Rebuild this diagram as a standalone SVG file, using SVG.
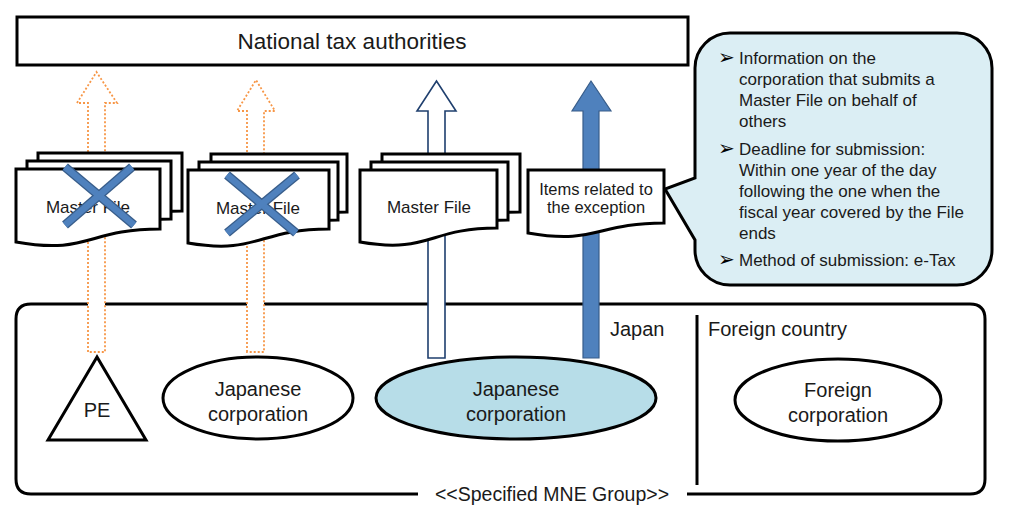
<svg xmlns="http://www.w3.org/2000/svg" width="1024" height="519" viewBox="0 0 1024 519">
<style>
text{font-family:"Liberation Sans",Arial,sans-serif;fill:#1a1a1a}
.box{fill:#fff;stroke:#000;stroke-width:3}
.doc{fill:#fff;stroke:#000;stroke-width:3;stroke-linejoin:miter}
.dot{fill:#fff;stroke:#f79646;stroke-width:1.8;stroke-dasharray:2 2}
.hollow{fill:#fff;stroke:#1f3f6e;stroke-width:1.6}
.solid{fill:#4f81bd;stroke:#385d8a;stroke-width:1.2}
.xo{stroke:#385d8a;stroke-width:9;stroke-linecap:butt}
.xi{stroke:#4f81bd;stroke-width:6.5;stroke-linecap:butt}
.bul{font-family:"DejaVu Sans",sans-serif;font-size:20px;fill:#000}
.ct{font-size:17px}
</style>
<g id="group">
<path d="M418,494 H31 Q16,494 16,479 V319 Q16,304 31,304 H970 Q985,304 985,319 V479 Q985,494 970,494 H687" fill="none" stroke="#000" stroke-width="3"/>
<line x1="697" y1="315" x2="697" y2="485" stroke="#000" stroke-width="3"/>
<text x="552" y="501" font-size="19.5" text-anchor="middle">&lt;&lt;Specified MNE Group&gt;&gt;</text>
<text x="610" y="336" font-size="20">Japan</text>
<text x="708" y="336" font-size="20">Foreign country</text>
</g>
<g id="pe">
<polygon points="97,357 48,440 146,440" class="box" stroke-linejoin="miter"/>
<text x="97" y="417" font-size="20" text-anchor="middle">PE</text>
</g>
<g id="jp1">
<ellipse cx="258" cy="398" rx="95" ry="41" class="box"/>
<text x="258" y="396" font-size="20" text-anchor="middle">Japanese</text>
<text x="258" y="421" font-size="20" text-anchor="middle">corporation</text>
</g>
<g id="jp2">
<ellipse cx="516" cy="398" rx="140" ry="41" fill="#b7dde8" stroke="#000" stroke-width="3"/>
<text x="516" y="396" font-size="20" text-anchor="middle">Japanese</text>
<text x="516" y="421" font-size="20" text-anchor="middle">corporation</text>
</g>
<g id="foreign">
<ellipse cx="838" cy="400" rx="103" ry="41" class="box"/>
<text x="838" y="397" font-size="20" text-anchor="middle">Foreign</text>
<text x="838" y="422" font-size="20" text-anchor="middle">corporation</text>
</g>
<g id="connectors">
<path class="dot" d="M88,352 V103 H77 L96.5,72 L117,103 H105 V352 Z"/>
<path class="dot" d="M247,352 V111 H237 L256,80 L275,111 H264 V352 Z"/>
<path class="hollow" d="M428,358 V111 H417 L436.5,81 L456,111 H445 V358 Z"/>
<path class="solid" d="M583,358 V111 H572 L591,81 L611,111 H599 V358 Z"/>
</g>
<g id="doc1">
<path class="doc" transform="translate(38,153)" d="M0,0 H144 V58 C72,58 72,84 0,72 Z"/>
<path class="doc" transform="translate(27,161)" d="M0,0 H144 V58 C72,58 72,84 0,72 Z"/>
<path class="doc" transform="translate(16,169)" d="M0,0 H144 V60 C72,60 72,86 0,73 Z"/>
<text x="88" y="213" font-size="17" text-anchor="middle">Master File</text>
<g><line class="xo" x1="65" y1="167" x2="134" y2="225"/><line class="xo" x1="132" y1="167" x2="65" y2="225"/><line class="xi" x1="65" y1="167" x2="134" y2="225"/><line class="xi" x1="132" y1="167" x2="65" y2="225"/></g>
</g>
<g id="doc2">
<path class="doc" transform="translate(211,154)" d="M0,0 H136 V58 C68,58 68,84 0,72 Z"/>
<path class="doc" transform="translate(199,162)" d="M0,0 H139 V58 C70,58 70,84 0,72 Z"/>
<path class="doc" transform="translate(188,170)" d="M0,0 H141 V59 C70,59 70,85 0,73 Z"/>
<text x="258" y="214" font-size="17" text-anchor="middle">Master File</text>
<g><line class="xo" x1="227" y1="175" x2="296" y2="233"/><line class="xo" x1="297" y1="175" x2="227" y2="233"/><line class="xi" x1="227" y1="175" x2="296" y2="233"/><line class="xi" x1="297" y1="175" x2="227" y2="233"/></g>
</g>
<g id="doc3">
<path class="doc" transform="translate(382,154)" d="M0,0 H138 V58 C69,58 69,84 0,72 Z"/>
<path class="doc" transform="translate(371,162)" d="M0,0 H137 V58 C69,58 69,84 0,72 Z"/>
<path class="doc" transform="translate(360,170)" d="M0,0 H137 V58 C69,58 69,84 0,72 Z"/>
<text x="429" y="213" font-size="17" text-anchor="middle">Master File</text>
</g>
<g id="items">
<path class="doc" transform="translate(528,170)" d="M0,0 H136 V53 C68,53 68,75 0,63 Z"/>
<text x="596" y="195" font-size="16.5" text-anchor="middle">Items related to</text>
<text x="596" y="213" font-size="16.5" text-anchor="middle">the exception</text>
</g>
<g id="callout">
<path d="M730,33 H957 A35,35 0 0 1 992,68 V250 A35,35 0 0 1 957,285 H730 A35,35 0 0 1 695,250 V240 L665,189 L695,178 V68 A35,35 0 0 1 730,33 Z" fill="#dbeef4" stroke="#000" stroke-width="3"/>
<text class="bul" x="718" y="64">➢</text>
<text class="ct" x="739" y="64">Information on the</text>
<text class="ct" x="739" y="85">corporation that submits a</text>
<text class="ct" x="739" y="106">Master File on behalf of</text>
<text class="ct" x="739" y="127">others</text>
<text class="bul" x="718" y="155">➢</text>
<text class="ct" x="739" y="155">Deadline for submission:</text>
<text class="ct" x="739" y="176">Within one year of the day</text>
<text class="ct" x="739" y="197">following the one when the</text>
<text class="ct" x="739" y="218">fiscal year covered by the File</text>
<text class="ct" x="739" y="239">ends</text>
<text class="bul" x="718" y="266">➢</text>
<text class="ct" x="739" y="266">Method of submission: e-Tax</text>
</g>
<g id="tax">
<rect x="17" y="17" width="671" height="48" class="box"/>
<text x="352" y="49" font-size="22.5" text-anchor="middle">National tax authorities</text>
</g>
</svg>
